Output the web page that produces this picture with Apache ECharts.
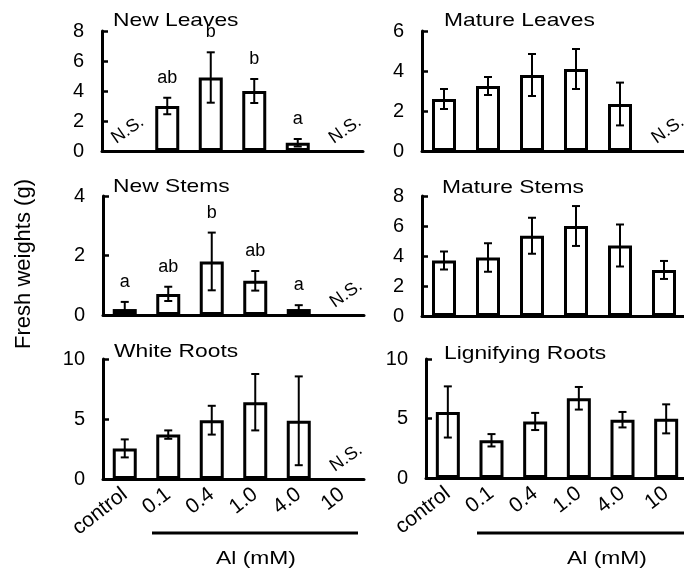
<!DOCTYPE html>
<html>
<head>
    <meta charset="utf-8" />
    <title>Fresh weights</title>
    <script src="https://cdn.jsdelivr.net/npm/echarts@6.0.0/dist/echarts.min.js"></script>
    <style>
        body { margin: 0; background: #fff; }
    </style>
</head>
<body>
    <div id="main" style="width: 684px;height:574px;"></div>
    <script type="text/javascript">
        // concentrations of Al
        const categories = ['control', '0.1', '0.4', '1.0', '4.0', '10'];

        // mean fresh weight (g) and error, null = N.S.
        const newLeavesMean = [null, 3.0, 4.9, 4.0, 0.55, null];
        const newLeavesErr = [0, 0.55, 1.68, 0.8, 0.25, 0];
        const newLeavesLetters = ['', 'ab', 'b', 'b', 'a', ''];

        const matureLeavesMean = [2.6, 3.25, 3.8, 4.1, 2.35, null];
        const matureLeavesErr = [0.5, 0.45, 1.05, 1.0, 1.07, 0];

        const newStemsMean = [0.2, 0.71, 1.8, 1.15, 0.2, null];
        const newStemsErr = [0.24, 0.24, 0.97, 0.33, 0.13, 0];
        const newStemsLetters = ['a', 'ab', 'b', 'ab', 'a', ''];

        const matureStemsMean = [3.7, 3.9, 5.35, 6.0, 4.7, 3.07];
        const matureStemsErr = [0.6, 0.95, 1.2, 1.33, 1.4, 0.6];

        const whiteRootsMean = [2.55, 3.7, 4.9, 6.4, 4.85, null];
        const whiteRootsErr = [0.75, 0.35, 1.2, 2.35, 3.7, 0];

        const ligRootsMean = [5.55, 3.17, 4.75, 6.7, 4.9, 4.97];
        const ligRootsErr = [2.15, 0.52, 0.72, 0.95, 0.65, 1.22];

        const FONT = 'Liberation Sans, Arial, sans-serif';

        // panel layout
        const panels = [
            { name: 'New Leaves', mean: newLeavesMean, err: newLeavesErr, letters: newLeavesLetters, max: 8, interval: 2,
              grid: { left: 102, top: 31, width: 261, height: 120 }, tx: 113, ty: 21, labels: false },
            { name: 'Mature Leaves', mean: matureLeavesMean, err: matureLeavesErr, letters: null, max: 6, interval: 2,
              grid: { left: 422, top: 31, width: 264, height: 120 }, tx: 444, ty: 21, labels: false },
            { name: 'New Stems', mean: newStemsMean, err: newStemsErr, letters: newStemsLetters, max: 4, interval: 2,
              grid: { left: 103, top: 196, width: 261, height: 119 }, tx: 113, ty: 187, labels: false },
            { name: 'Mature Stems', mean: matureStemsMean, err: matureStemsErr, letters: null, max: 8, interval: 2,
              grid: { left: 422, top: 196, width: 264, height: 120 }, tx: 442, ty: 188, labels: false },
            { name: 'White Roots', mean: whiteRootsMean, err: whiteRootsErr, letters: null, max: 10, interval: 5,
              grid: { left: 103, top: 359, width: 261, height: 120 }, tx: 114, ty: 352, labels: true },
            { name: 'Lignifying Roots', mean: ligRootsMean, err: ligRootsErr, letters: null, max: 10, interval: 5,
              grid: { left: 426, top: 359, width: 262, height: 119 }, tx: 444, ty: 354, labels: true }
        ];

        function makeRender(p) {
            return function (params, api) {
                let i = params.dataIndex;
                let m = p.mean[i];
                if (m == null) {
                    let base = api.coord([i, 0]);
                    return {
                        type: 'text',
                        x: base[0] + 4,
                        y: base[1] - 21,
                        rotation: 35 * Math.PI / 180,
                        style: { text: 'N.S.', fill: '#000', font: '18px ' + FONT, align: 'center', verticalAlign: 'middle' }
                    };
                }
                let e = p.err[i];
                let top = api.coord([i, m + e]);
                let bot = api.coord([i, Math.max(0, m - e)]);
                let x = top[0];
                let ls = { stroke: '#000', lineWidth: 2 };
                let children = [
                    { type: 'line', shape: { x1: x, y1: top[1], x2: x, y2: bot[1] }, style: ls },
                    { type: 'line', shape: { x1: x - 4, y1: top[1], x2: x + 4, y2: top[1] }, style: ls },
                    { type: 'line', shape: { x1: x - 4, y1: bot[1], x2: x + 4, y2: bot[1] }, style: ls }
                ];
                if (p.letters && p.letters[i]) {
                    children.push({
                        type: 'text', x: x, y: top[1] - 11,
                        style: { text: p.letters[i], fill: '#000', font: '18px ' + FONT, align: 'center', verticalAlign: 'bottom' }
                    });
                }
                return { type: 'group', children: children };
            };
        }

        let grids = [], xAxes = [], yAxes = [], series = [], graphics = [];
        panels.forEach((p, k) => {
            grids.push(Object.assign({ outerBoundsMode: 'none', containLabel: false }, p.grid));
            xAxes.push({
                gridIndex: k, type: 'category', data: categories,
                axisLine: { lineStyle: { color: '#000', width: 3 } },
                axisTick: { show: false },
                axisLabel: { show: p.labels, interval: 0, rotate: 38, margin: 13, color: '#000', fontSize: 21, fontFamily: FONT }
            });
            yAxes.push({
                gridIndex: k, type: 'value', min: 0, max: p.max, interval: p.interval,
                axisLine: { show: true, lineStyle: { color: '#000', width: 3 } },
                axisTick: { show: true, inside: true, length: 6, lineStyle: { color: '#000', width: 2.5 } },
                axisLabel: { color: '#000', fontSize: 20, fontFamily: FONT, margin: 18 },
                splitLine: { show: false }
            });
            series.push({
                type: 'bar', xAxisIndex: k, yAxisIndex: k,
                data: p.mean.map(v => v == null ? '-' : v),
                barWidth: 24,
                itemStyle: { color: '#fff', borderColor: '#000', borderWidth: 3 },
                silent: true
            });
            series.push({
                type: 'custom', xAxisIndex: k, yAxisIndex: k,
                data: p.mean.map((v, i) => [i, v == null ? 0 : v]),
                encode: { x: 0, y: 1 },
                renderItem: makeRender(p),
                z: 5, silent: true
            });
            graphics.push({
                type: 'text', x: p.tx, y: p.ty, scaleX: 1.2,
                style: { text: p.name, fill: '#000', font: '19px ' + FONT, verticalAlign: 'middle' }
            });
        });

        graphics.push({
            type: 'text', x: 24, y: 264, rotation: Math.PI / 2,
            style: { text: 'Fresh weights (g)', fill: '#000', font: '22px ' + FONT, align: 'center', verticalAlign: 'middle' }
        });
        graphics.push({ type: 'line', shape: { x1: 152, y1: 533, x2: 358, y2: 533 }, style: { stroke: '#000', lineWidth: 3 } });
        graphics.push({ type: 'line', shape: { x1: 477, y1: 533, x2: 684, y2: 533 }, style: { stroke: '#000', lineWidth: 3 } });
        graphics.push({
            type: 'text', x: 256, y: 559, scaleX: 1.2,
            style: { text: 'Al (mM)', fill: '#000', font: '19px ' + FONT, align: 'center', verticalAlign: 'middle' }
        });
        graphics.push({
            type: 'text', x: 607, y: 559, scaleX: 1.2,
            style: { text: 'Al (mM)', fill: '#000', font: '19px ' + FONT, align: 'center', verticalAlign: 'middle' }
        });

        let myChart = echarts.init(document.getElementById('main'));
        myChart.setOption({
            animation: false,
            backgroundColor: '#fff',
            grid: grids,
            xAxis: xAxes,
            yAxis: yAxes,
            series: series,
            graphic: graphics
        });
    </script>
</body>
</html>
